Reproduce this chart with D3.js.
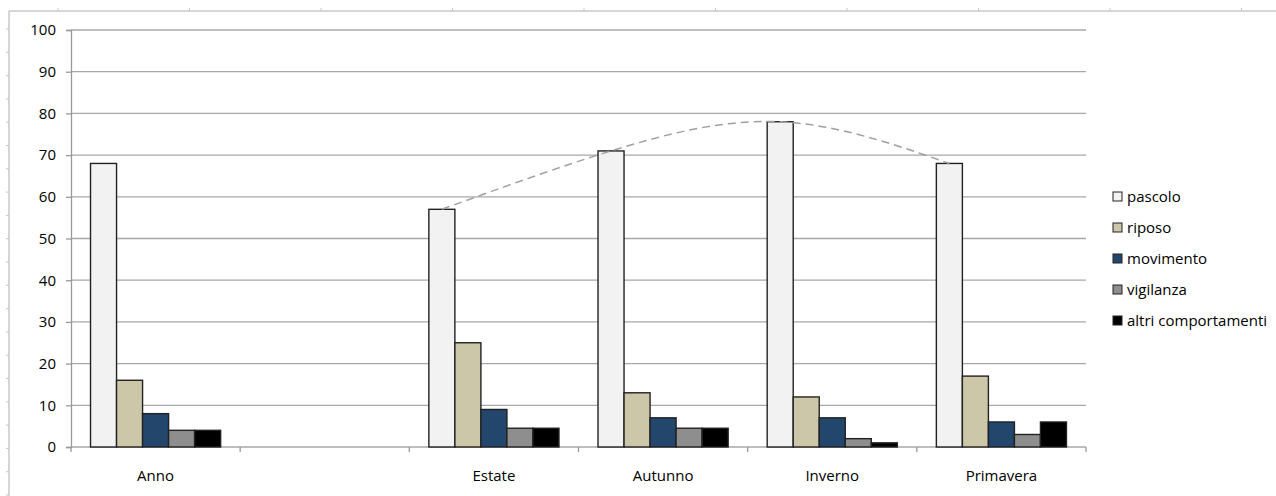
<!DOCTYPE html>
<html>
<head>
<meta charset="utf-8">
<script src="https://cdn.jsdelivr.net/npm/d3@7"></script>
<style>
  body { margin: 0; background: #fff; }
  text { font-family: "Open Sans", sans-serif; fill: #000; }
</style>
</head>
<body>
<div id="chart"></div>
<script>
// Data
const categories = ["Anno", "", "Estate", "Autunno", "Inverno", "Primavera"];
const series = ["pascolo", "riposo", "movimento", "vigilanza", "altri comportamenti"];
const pascolo   = [68, null, 57, 71, 78, 68];
const riposo    = [16, null, 25, 13, 12, 17];
const movimento = [8, null, 9, 7, 7, 6];
const vigilanza = [4, null, 4.5, 4.5, 2, 3];
const altri     = [4, null, 4.5, 4.5, 1, 6];
const yTicks = [0, 10, 20, 30, 40, 50, 60, 70, 80, 90, 100];
const trendCats = ["Estate", "Autunno", "Inverno", "Primavera"]; // dashed curve over pascolo

const values = [pascolo, riposo, movimento, vigilanza, altri];
const colors = ["#f2f2f2", "#ccc7a9", "#22466c", "#8e8e8e", "#000000"];

const W = 1276, H = 496;
const margin = { top: 30, right: 190, bottom: 49, left: 71 },
      width = W - margin.left - margin.right,
      height = H - margin.top - margin.bottom;

const root = d3.select("#chart").append("svg")
    .attr("width", W)
    .attr("height", H);

// page frame with ruler marks
root.append("line").attr("x1", 9).attr("x2", W).attr("y1", 11).attr("y2", 11)
    .attr("stroke", "#c8c8c8").attr("stroke-width", 1.5);
root.append("line").attr("x1", 9).attr("x2", 9).attr("y1", 11).attr("y2", H)
    .attr("stroke", "#c8c8c8").attr("stroke-width", 1.5);
root.selectAll(".rx").data(d3.range(58, W, 131.5)).join("line")
    .attr("x1", d => d).attr("x2", d => d).attr("y1", 8).attr("y2", 11)
    .attr("stroke", "#c8c8c8");
root.selectAll(".ry").data(d3.range(29, H, 23.3)).join("line")
    .attr("x1", 6).attr("x2", 9).attr("y1", d => d).attr("y2", d => d)
    .attr("stroke", "#c8c8c8");

const svg = root.append("g")
    .attr("transform", `translate(${margin.left},${margin.top})`);

// Scales
const x = d3.scaleBand().domain(d3.range(categories.length)).range([0, width]);
const xSub = d3.scaleBand().domain(series).range([0, x.bandwidth()]).paddingOuter(0.75);
const y = d3.scaleLinear().domain([0, 100]).range([height, 0]);

// Gridlines
svg.selectAll(".grid").data(yTicks).join("line")
    .attr("x1", 0).attr("x2", width)
    .attr("y1", d => y(d)).attr("y2", d => y(d))
    .attr("stroke", "#a8a8a8").attr("stroke-width", 1.3);

// Y axis
const yAxis = svg.append("g")
    .call(d3.axisLeft(y).tickValues(yTicks).tickSize(5).tickPadding(10));
yAxis.select(".domain").attr("stroke", "#999").attr("stroke-width", 1.3);
yAxis.selectAll(".tick line").attr("stroke", "#999").attr("stroke-width", 1.3);
yAxis.selectAll("text").style("font-size", "15px").attr("fill", "#000");

// X axis ticks at category boundaries
const xAxis = svg.append("g").attr("transform", `translate(0,${height})`);
xAxis.selectAll("line").data(d3.range(categories.length + 1)).join("line")
    .attr("x1", d => d * x.step()).attr("x2", d => d * x.step())
    .attr("y1", 0).attr("y2", 5)
    .attr("stroke", "#999").attr("stroke-width", 1.3);
xAxis.selectAll("text").data(categories).join("text")
    .attr("x", (d, i) => x(i) + x.bandwidth() / 2)
    .attr("y", 34)
    .attr("text-anchor", "middle")
    .style("font-size", "15px")
    .text(d => d);

// Bars
series.forEach((s, si) => {
    svg.append("g").selectAll("rect")
        .data(values[si].map((v, i) => ({ i, v })).filter(d => d.v != null))
        .join("rect")
        .attr("x", d => x(d.i) + xSub(s))
        .attr("y", d => y(d.v))
        .attr("width", xSub.bandwidth())
        .attr("height", d => height - y(d.v))
        .attr("fill", colors[si])
        .attr("stroke", "#222")
        .attr("stroke-width", 1.4);
});

// Dashed trend curve over pascolo tops
const trend = trendCats.map(c => {
    const i = categories.indexOf(c);
    return [x(i) + xSub("pascolo") + xSub.bandwidth() / 2, y(pascolo[i])];
});
svg.append("path")
    .attr("d", d3.line().curve(d3.curveNatural)(trend))
    .attr("fill", "none")
    .attr("stroke", "#a0a0a0")
    .attr("stroke-width", 1.5)
    .attr("stroke-dasharray", "8,5");

// Legend
const legend = root.append("g").attr("transform", "translate(1113,197)");
series.forEach((s, i) => {
    const g = legend.append("g").attr("transform", `translate(0,${i * 31})`);
    g.append("rect").attr("x", 0).attr("y", -5).attr("width", 9).attr("height", 9)
        .attr("fill", colors[i]).attr("stroke", "#222").attr("stroke-width", 1);
    g.append("text").attr("x", 14).attr("y", 5)
        .style("font-size", "15px")
        .text(s);
});
</script>
</body>
</html>
